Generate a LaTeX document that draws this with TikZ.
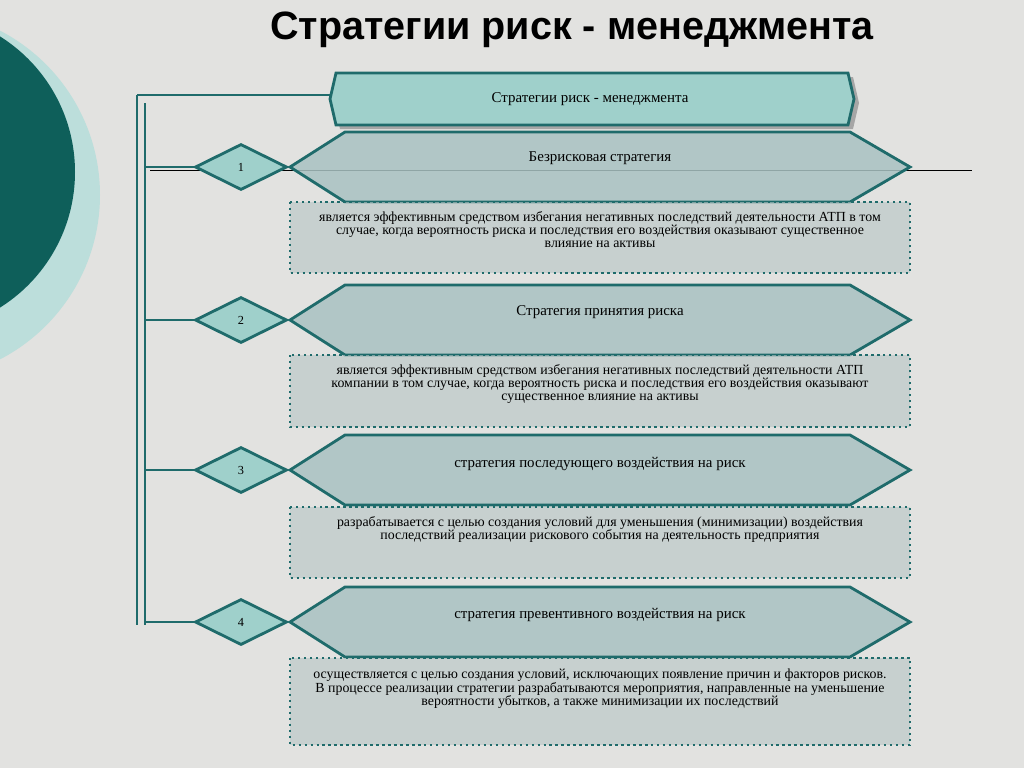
\documentclass[tikz,border=0pt]{standalone}
\usepackage{fontspec}
\setmainfont{Liberation Serif}
\newfontfamily\titlefont{Liberation Sans}
\usetikzlibrary{shapes.geometric}
\definecolor{teald}{HTML}{1F6B6B}
\definecolor{tealc}{HTML}{0E5F5A}
\definecolor{teall}{HTML}{9FD0CB}
\definecolor{hexfill}{HTML}{A9C2C2}
\definecolor{boxfill}{HTML}{B5C4C4}
\definecolor{marble}{HTML}{E2E2E0}
\tikzset{
  hexa/.style={draw=teald,line width=1.6pt,fill=hexfill,fill opacity=0.85},
  numbox/.style={diamond,draw=teald,line width=1.6pt,fill=teall,minimum width=1.84cm,minimum height=0.92cm,inner sep=0pt,aspect=2,font=\fontsize{7}{8}\selectfont},
  infobox/.style={draw=teald,line width=1.4pt,dotted,fill=boxfill,fill opacity=0.6,text opacity=1},
  head/.style={font=\fontsize{8.5}{10}\selectfont},
  info/.style={font=\fontsize{7.9}{7.6}\selectfont,align=center,anchor=north},
  spine/.style={draw=teald,line width=1.4pt}
}
\begin{document}
\begin{tikzpicture}[x=0.02cm,y=-0.02cm]
  \useasboundingbox (0,0) rectangle (1024,768);
  \fill[marble] (0,0) rectangle (1024,768);

  % circles on the left
  \begin{scope}
    \clip (0,0) rectangle (1024,768);
    \fill[teall!70] (-85,195) circle (185);
    \fill[tealc] (-85,172) circle (160);
  \end{scope}

  \node[font=\titlefont\bfseries\fontsize{22.5}{26}\selectfont] (title) at (572,30) {Стратегии риск - менеджмента};

  % spine
  \draw[spine] (137,95) -- (137,625);
  \draw[spine] (145,103) -- (145,625);
  \draw[thin] (150,170) -- (972,170);

  % top box
  \fill[black!35] (340,77) -- (853,77) -- (859,103) -- (853,129) -- (340,129) -- (334,103) -- cycle;
  \draw[hexa,fill=teall,fill opacity=1] (336,73) -- (848,73) -- (854,99) -- (848,125) -- (336,125) -- (330,99) -- cycle;
  \node[head] (top) at (590,99) {Стратегии риск - менеджмента};
  \draw[spine] (330,95) -- (137,95);

  % hexagons
  \foreach \y/\n in {167/1,320/2,470/3,622/4}{
    \draw[hexa] (290,\y) -- (345,\y-35) -- (850,\y-35) -- (910,\y) -- (850,\y+35) -- (345,\y+35) -- cycle;
    \node[numbox] (d\n) at (241,\y) {\n};
    \draw[spine] (145,\y) -- (d\n.west);
  }

  \node[head] (h1) at (600,158) {Безрисковая стратегия};
  \node[head] (h2) at (600,312) {Стратегия принятия риска};
  \node[head] (h3) at (600,464) {стратегия последующего воздействия на риск};
  \node[head] (h4) at (600,615) {стратегия превентивного воздействия на риск};

  % info boxes
  \draw[infobox] (290,202) rectangle (910,273);
  \draw[infobox] (290,355) rectangle (910,427);
  \draw[infobox] (290,507) rectangle (910,578);
  \draw[infobox] (290,658) rectangle (910,745);

  \node[info] (t1) at (600,205) {является эффективным средством избегания негативных последствий деятельности АТП в том\\случае, когда вероятность риска и последствия его воздействия оказывают существенное\\влияние на активы};
  \node[info] (t2) at (600,358) {является эффективным средством избегания негативных последствий деятельности АТП\\компании в том случае, когда вероятность риска и последствия его воздействия оказывают\\существенное влияние на активы};
  \node[info] (t3) at (600,510) {разрабатывается с целью создания условий для уменьшения (минимизации) воздействия\\последствий реализации рискового события на деятельность предприятия};
  \node[info] (t4) at (600,663) {осуществляется с целью создания условий, исключающих появление причин и факторов рисков.\\В процессе реализации стратегии разрабатываются мероприятия, направленные на уменьшение\\вероятности убытков, а также минимизации их последствий};
\end{tikzpicture}
\end{document}
